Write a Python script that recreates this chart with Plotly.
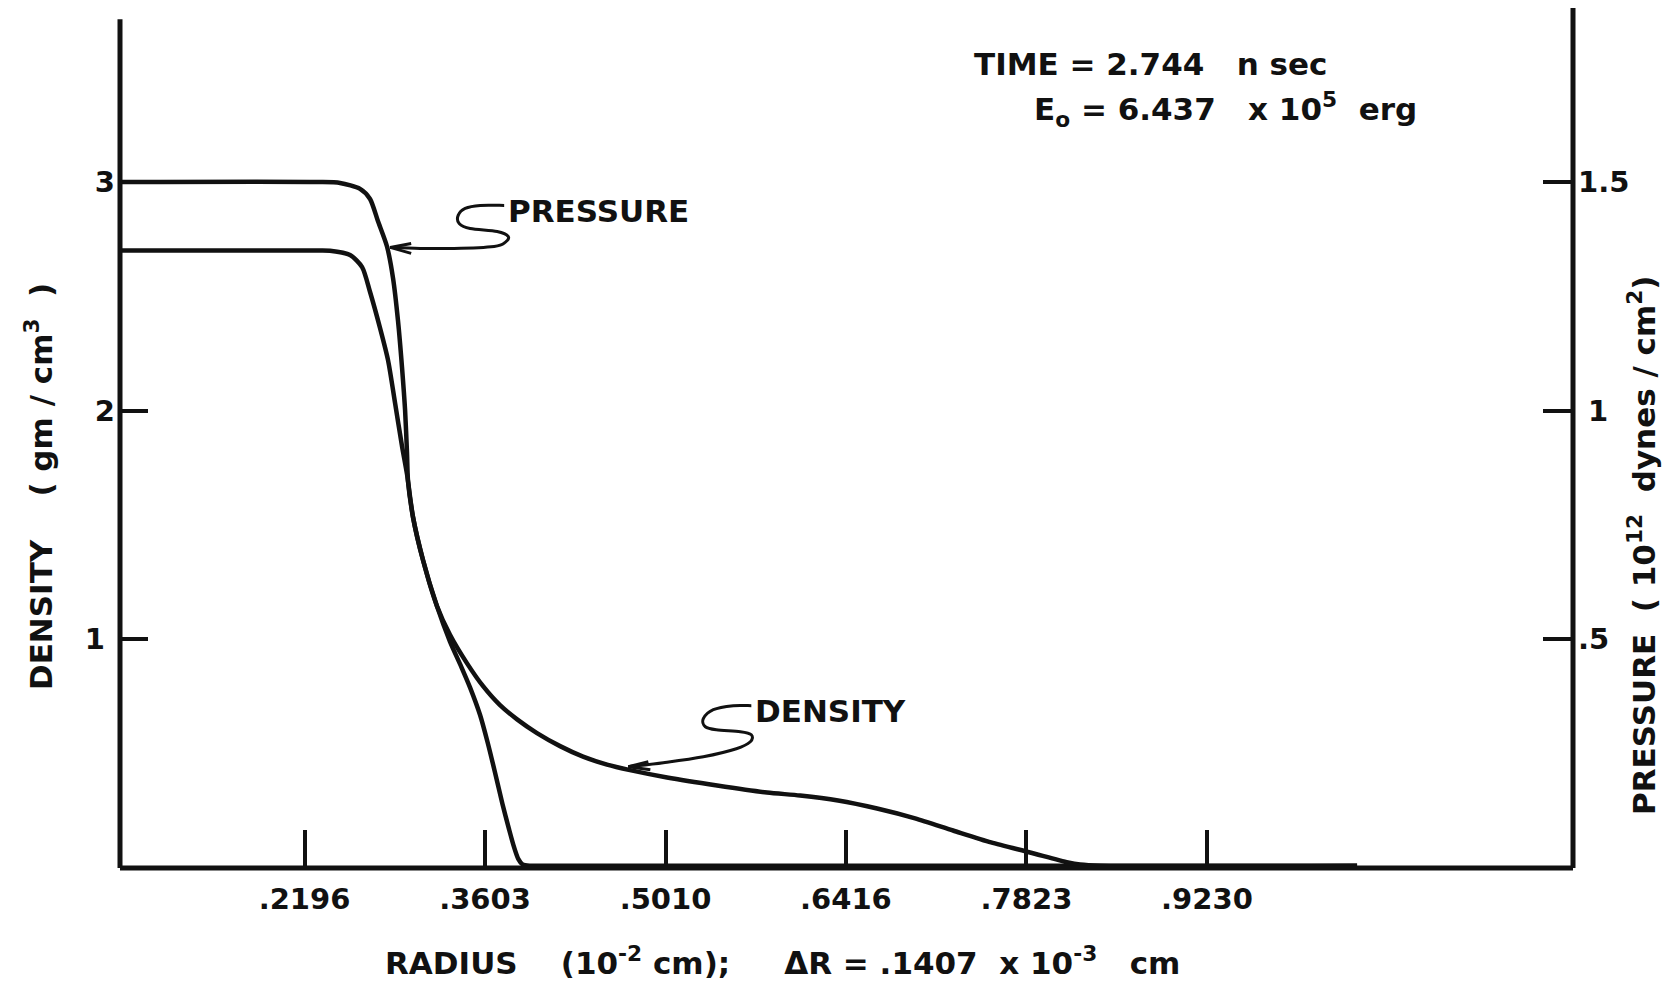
import numpy as np
import plotly.graph_objects as go

# Radius in units of 1e-2 cm
radius_p = [0.0758, 0.2300, 0.2473, 0.2629, 0.2707, 0.2769, 0.2839, 0.2886, 0.2925,
            0.2956, 0.2980, 0.2995, 0.3003, 0.3042, 0.3120, 0.3229, 0.3330, 0.3418,
            0.3486, 0.3564, 0.3623, 0.3680, 0.3739, 0.3790, 0.3830, 0.3862, 0.3895,
            0.3950, 0.4110, 1.0400]
# Pressure in units of 1e12 dynes/cm^2
pressure = [1.500, 1.500, 1.498, 1.485, 1.463, 1.414, 1.359, 1.290, 1.196,
            1.095, 1.001, 0.907, 0.846, 0.767, 0.673, 0.572, 0.495, 0.440,
            0.395, 0.335, 0.275, 0.210, 0.140, 0.085, 0.045, 0.020, 0.008,
            0.005, 0.005, 0.005]

radius_d = [0.0758, 0.2300, 0.2395, 0.2551, 0.2645, 0.2707, 0.2785, 0.2847, 0.2902,
            0.2956, 0.2995, 0.3042, 0.3120, 0.3229, 0.3330, 0.3463, 0.3588, 0.3720,
            0.3853, 0.4008, 0.4188, 0.4367, 0.4554, 0.4733, 0.5022, 0.5412, 0.5801,
            0.6059, 0.6355, 0.6659, 0.6955, 0.7251, 0.7547, 0.7851, 0.8147, 0.8241,
            0.8400, 1.0400]
# Density in gm/cm^3
density = [2.700, 2.700, 2.699, 2.681, 2.628, 2.519, 2.361, 2.221, 2.033,
           1.845, 1.722, 1.534, 1.346, 1.145, 1.020, 0.895, 0.795, 0.712,
           0.650, 0.590, 0.533, 0.487, 0.452, 0.428, 0.396, 0.361, 0.330,
           0.317, 0.295, 0.260, 0.217, 0.164, 0.112, 0.068, 0.024, 0.015,
           0.010, 0.010]

radius_ticks = [0.2196, 0.3603, 0.5010, 0.6416, 0.7823, 0.9230]
radius_ticktext = [".2196", ".3603", ".5010", ".6416", ".7823", ".9230"]
density_ticks = [1, 2, 3]
density_ticktext = ["1\u00a0", "2", "3"]
pressure_ticks = [0.5, 1.0, 1.5]
pressure_ticktext = [".5", "\u00a01", "1.5"]

FONT = "DejaVu Sans"
INK = "#111111"
X_RANGE = [0.0758, 1.2083]
RHO_TOP = 3.761
SP = "\u00a0"


def radius_at(values, radii, level):
    """Radius where a falling profile first drops through `level`."""
    v = np.asarray(values, float)
    r = np.asarray(radii, float)
    i = np.where((v[:-1] >= level) & (v[1:] < level))[0][0]
    return r[i] + (level - v[i]) * (r[i + 1] - r[i]) / (v[i + 1] - v[i])


def smooth_path(pts):
    """Catmull-Rom curve through pixel offsets, as an SVG path."""
    p = [np.array(q, float) for q in pts]
    d = f"M {p[0][0]:.1f},{p[0][1]:.1f}"
    for i in range(len(p) - 1):
        p0 = p[i - 1] if i > 0 else p[i]
        p1, p2 = p[i], p[i + 1]
        p3 = p[i + 2] if i + 2 < len(p) else p[i + 1]
        c1 = p1 + (p2 - p0) / 6
        c2 = p2 - (p3 - p1) / 6
        d += (f" C {c1[0]:.1f},{c1[1]:.1f} {c2[0]:.1f},{c2[1]:.1f}"
              f" {p2[0]:.1f},{p2[1]:.1f}")
    return d


def poly_path(pts):
    return "M " + " L ".join(f"{x:.1f},{y:.1f}" for x, y in pts)


def bold(s):
    return f"<b>{s}</b>"


fig = go.Figure()
fig.add_trace(go.Scatter(
    x=radius_p, y=pressure, yaxis="y2", mode="lines", name="PRESSURE",
    line=dict(color=INK, width=4.5, shape="spline", smoothing=0.7),
    hoverinfo="skip"))
fig.add_trace(go.Scatter(
    x=radius_d, y=density, mode="lines", name="DENSITY",
    line=dict(color=INK, width=4.5, shape="spline", smoothing=0.7),
    hoverinfo="skip"))

# Arrow tips sit on the curves
p_tip_level = 1.357
p_tip = (radius_at(pressure, radius_p, p_tip_level), p_tip_level)
d_tip_r = 0.4720
d_tip = (d_tip_r, float(np.interp(d_tip_r, radius_d, density)))

p_squiggle = [(3, 0), (33, -1), (67, -1), (107, 1), (118, 5), (121, 11), (110, 16),
              (83, 19), (72, 24), (71, 32), (78, 39), (93, 42), (117, 42)]
p_head = [(24, 4), (3, 0), (24, -6)]
d_squiggle = [(0, 3), (35, 7), (75, 13), (108, 21), (122, 28), (123, 35), (112, 38),
              (88, 40), (77, 43), (75, 51), (85, 60), (105, 64), (123, 64)]
d_head = [(20, 8), (0, 3), (22, 0)]

shapes = []
for tip, yref, curl, head in [(p_tip, "y2", p_squiggle, p_head),
                              (d_tip, "y", d_squiggle, d_head)]:
    for path in (smooth_path(curl), poly_path(head)):
        shapes.append(dict(type="path", path=path, xref="x", yref=yref,
                           xsizemode="pixel", ysizemode="pixel",
                           xanchor=tip[0], yanchor=tip[1],
                           line=dict(color=INK, width=3)))

# Frame: left, bottom and right axis lines
shapes += [
    dict(type="line", xref="paper", yref="paper", x0=0, x1=0, y0=0, y1=0.987,
         line=dict(color=INK, width=5)),
    dict(type="line", xref="paper", yref="paper", x0=0, x1=1, y0=0, y1=0,
         line=dict(color=INK, width=5)),
    dict(type="line", xref="paper", yref="paper", x0=1, x1=1, y0=0, y1=1,
         line=dict(color=INK, width=5)),
]

label_font = dict(family=FONT, size=31, color=INK)
title_font = dict(family=FONT, size=31, color=INK)
annotations = [
    dict(x=p_tip[0], y=p_tip[1], xref="x", yref="y2", text=bold("PRESSURE"),
         xanchor="left", yanchor="middle", xshift=119, yshift=36, showarrow=False,
         font=label_font),
    dict(x=d_tip[0], y=d_tip[1], xref="x", yref="y", text=bold("DENSITY"),
         xanchor="left", yanchor="middle", xshift=125, yshift=59, showarrow=False,
         font=label_font),
    dict(x=0.5864, y=0.9349, xref="paper", yref="paper",
         text=bold(f"TIME{SP}={SP}2.744{SP}{SP}{SP}n{SP}sec"),
         xanchor="left", yanchor="middle", showarrow=False, font=label_font),
    dict(x=0.6277, y=0.8814, xref="paper", yref="paper",
         text=bold(f"E<sub>o</sub>{SP}={SP}6.437{SP}{SP}{SP}x{SP}10<sup>5</sup>{SP}{SP}erg"),
         xanchor="left", yanchor="middle", showarrow=False, font=label_font),
    dict(x=-0.0557, y=0.443, xref="paper", yref="paper", textangle=-90,
         text=bold(f"DENSITY{SP}{SP}{SP}{SP}({SP}gm{SP}/{SP}cm<sup>3</sup>{SP}{SP})"),
         xanchor="center", yanchor="middle", showarrow=False, font=title_font),
    dict(x=1.0475, y=0.3756, xref="paper", yref="paper", textangle=-90,
         text=bold(f"PRESSURE{SP}{SP}({SP}10<sup>12</sup>{SP}{SP}dynes{SP}/{SP}cm<sup>2</sup>)"),
         xanchor="center", yanchor="middle", showarrow=False, font=title_font),
    dict(x=0.456, y=-0.108, xref="paper", yref="paper",
         text=bold(f"RADIUS{SP}{SP}{SP}{SP}(10<sup>-2</sup>{SP}cm);{SP}{SP}{SP}{SP}{SP}"
                   f"\u0394R{SP}={SP}.1407{SP}{SP}x{SP}10<sup>-3</sup>{SP}{SP}{SP}cm"),
         xanchor="center", yanchor="middle", showarrow=False, font=title_font),
]

tick_font = dict(family=FONT, size=29, color=INK, weight="bold")
fig.update_layout(
    width=1669, height=986,
    margin=dict(l=120, r=96, t=8, b=118),
    paper_bgcolor="white", plot_bgcolor="white",
    showlegend=False,
    shapes=shapes,
    annotations=annotations,
    xaxis=dict(range=X_RANGE, tickvals=radius_ticks, ticktext=radius_ticktext,
               ticks="inside", ticklen=38, tickwidth=3.5, tickcolor=INK,
               tickfont=tick_font, ticklabelstandoff=11,
               showgrid=False, zeroline=False, showline=False),
    yaxis=dict(range=[0, RHO_TOP], tickvals=density_ticks, ticktext=density_ticktext,
               ticks="inside", ticklen=28, tickwidth=3.5, tickcolor=INK,
               tickfont=tick_font, ticklabelstandoff=4,
               showgrid=False, zeroline=False, showline=False),
    yaxis2=dict(range=[0, RHO_TOP / 2], tickvals=pressure_ticks,
                ticktext=pressure_ticktext, overlaying="y", side="right",
                ticks="inside", ticklen=30, tickwidth=3.5, tickcolor=INK,
                tickfont=tick_font, ticklabelstandoff=4,
                showgrid=False, zeroline=False, showline=False),
)

fig.write_html("out.html")
